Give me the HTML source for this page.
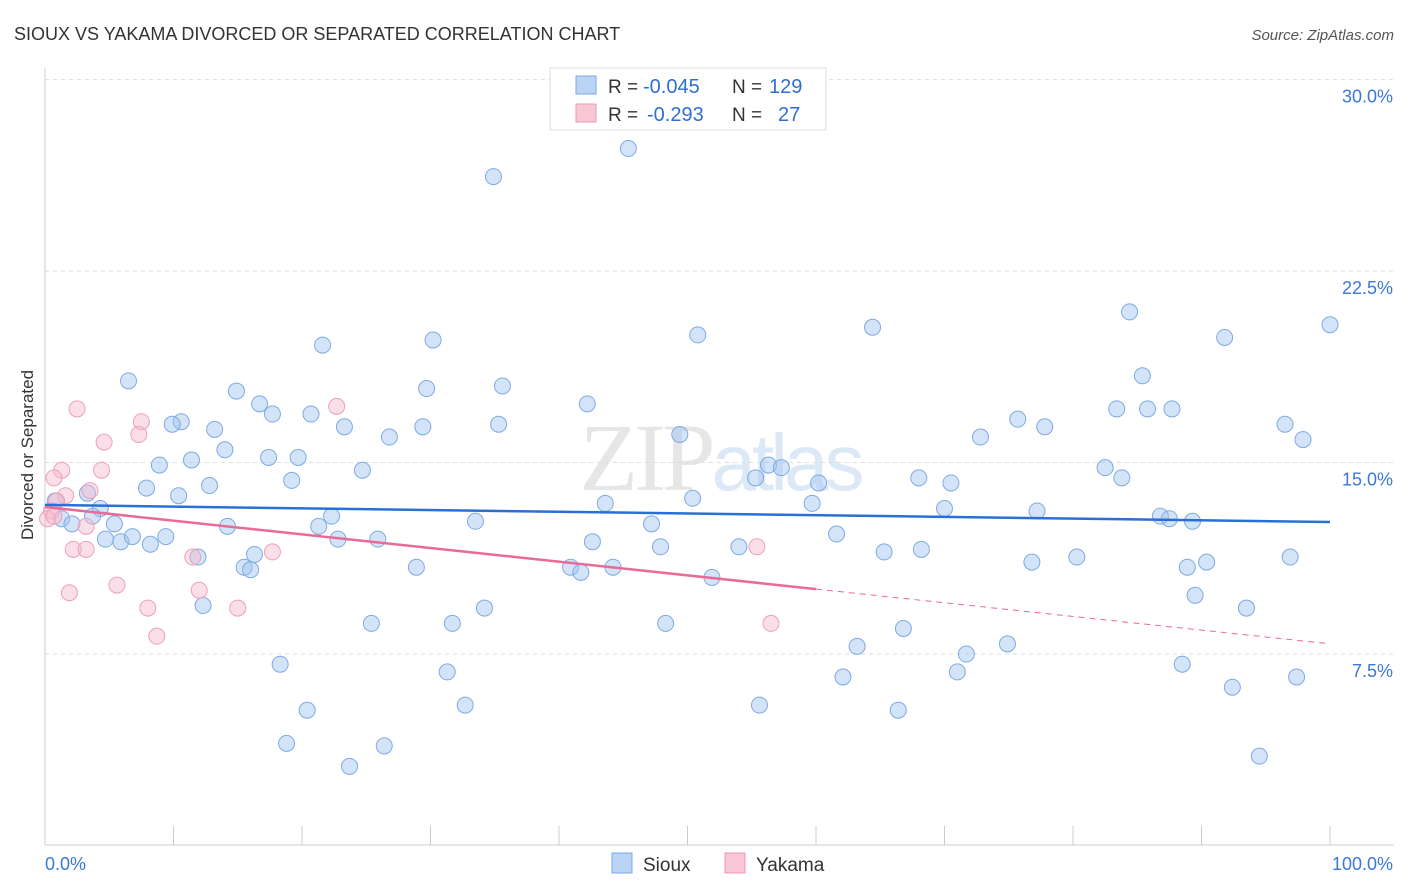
<!DOCTYPE html>
<html><head><meta charset="utf-8"><style>
body{margin:0;background:#fff;font-family:"Liberation Sans",sans-serif;}
</style></head><body>
<svg id="chart" width="1406" height="892" xmlns="http://www.w3.org/2000/svg" style="display:block">
<text x="14" y="40" font-size="18" fill="#333">SIOUX VS YAKAMA DIVORCED OR SEPARATED CORRELATION CHART</text>
<text x="1394" y="40" font-size="15" fill="#555" font-style="italic" text-anchor="end">Source: ZipAtlas.com</text>
<text x="720" y="490" font-size="96" fill="#e6e6e6" text-anchor="middle" font-family="Liberation Serif,serif" letter-spacing="-4">ZIP<tspan fill="#dce8f6" font-family="Liberation Sans,sans-serif" font-size="80">atlas</tspan></text>
<g id="grid"></g><g id="axes"></g><g id="pts"></g><g id="trend"></g>
<text transform="translate(33,455) rotate(-90)" font-size="17" fill="#333" text-anchor="middle">Divorced or Separated</text>
<g>
<rect x="550" y="68" width="276" height="62" fill="#fff" stroke="#ddd"/>
<rect x="576" y="76" width="20" height="18" fill="#b9d4f5" stroke="#7aaae0"/>
<rect x="576" y="104" width="20" height="18" fill="#f9c6d5" stroke="#eb9ab3"/>
<text x="608" y="93" font-size="19" fill="#333">R =</text>
<text x="643" y="93" font-size="20" fill="#2f6fd1">-0.045</text>
<text x="732" y="93" font-size="19" fill="#333">N =</text>
<text x="769" y="93" font-size="20" fill="#2f6fd1">129</text>
<text x="608" y="121" font-size="19" fill="#333">R =</text>
<text x="647" y="121" font-size="20" fill="#2f6fd1">-0.293</text>
<text x="732" y="121" font-size="19" fill="#333">N =</text>
<text x="778" y="121" font-size="20" fill="#2f6fd1">27</text>
</g>
<g>
<rect x="612" y="853" width="20" height="20" fill="#b9d4f5" stroke="#7aaae0"/>
<text x="643" y="871" font-size="19" fill="#333">Sioux</text>
<rect x="725" y="853" width="20" height="20" fill="#f9c6d5" stroke="#eb9ab3"/>
<text x="756" y="871" font-size="19" fill="#333">Yakama</text>
</g>
</svg>
<script>
const yTicks=[7.5,15,22.5,30];
const yTickLabels=["7.5%","15.0%","22.5%","30.0%"];
const xTickLabels=["0.0%","100.0%"];
const siouxX=[34.9,45.4,21.6,30.2,50.8,64.4,84.4,91.8,100,6.5,14.9,29.7,35.6,85.4,16.7,17.7,20.7,42.2,10.6,9.9,13.2,23.3,26.8,29.4,35.3,49.4,75.7,77.8,83.4,85.8,87.7,96.5,97.9,72.8,14.0,11.4,8.9,17.4,19.7,24.7,56.3,57.3,55.3,60.2,68.0,70.5,82.5,83.8,7.9,10.4,12.8,19.2,43.6,50.4,59.7,70.0,77.2,86.8,87.5,89.3,3.3,4.3,5.4,0.8,1.3,2.1,3.7,14.2,21.3,22.3,33.5,47.2,61.6,4.7,5.9,6.8,8.2,9.4,22.8,25.9,42.6,47.9,54.0,65.3,68.2,11.9,16.3,15.5,16.0,28.9,40.9,41.7,44.2,51.9,76.8,80.3,88.9,90.4,96.9,12.3,34.2,89.5,93.5,25.4,31.7,48.3,66.8,63.2,71.7,74.9,18.3,31.3,62.1,71.0,88.5,92.4,97.4,20.4,32.7,55.6,66.4,18.8,26.4,23.7,94.5];
const siouxY=[26.2,27.3,19.6,19.8,20.0,20.3,20.9,19.9,20.4,18.2,17.8,17.9,18.0,18.4,17.3,16.9,16.9,17.3,16.6,16.5,16.3,16.4,16.0,16.4,16.5,16.1,16.7,16.4,17.1,17.1,17.1,16.5,15.9,16.0,15.5,15.1,14.9,15.2,15.2,14.7,14.9,14.8,14.4,14.2,14.4,14.2,14.8,14.4,14.0,13.7,14.1,14.3,13.4,13.6,13.4,13.2,13.1,12.9,12.8,12.7,13.8,13.2,12.6,13.5,12.8,12.6,12.9,12.5,12.5,12.9,12.7,12.6,12.2,12.0,11.9,12.1,11.8,12.1,12.0,12.0,11.9,11.7,11.7,11.5,11.6,11.3,11.4,10.9,10.8,10.9,10.9,10.7,10.9,10.5,11.1,11.3,10.9,11.1,11.3,9.4,9.3,9.8,9.3,8.7,8.7,8.7,8.5,7.8,7.5,7.9,7.1,6.8,6.6,6.8,7.1,6.2,6.6,5.3,5.5,5.5,5.3,4.0,3.9,3.1,3.5];
const yakX=[2.5,7.5,7.3,4.6,1.3,0.7,4.4,3.5,1.6,0.9,0.5,0.2,3.2,2.2,3.2,1.9,5.6,8.0,8.7,11.5,12.0,15.0,17.7,22.7,55.4,56.5,0.7];
const yakY=[17.1,16.6,16.1,15.8,14.7,14.4,14.7,13.9,13.7,13.5,13.1,12.8,12.5,11.6,11.6,9.9,10.2,9.3,8.2,11.3,10.0,9.3,11.5,17.2,11.7,8.7,12.9];
const siouxTrend=[13.34,12.67];
const yakTrend=[13.26,7.9];
const yakSolidEnd=60;
const NS="http://www.w3.org/2000/svg";
const X=v=>45+v*12.85, Y=v=>845.5-v*25.53;
function mk(tag,attrs,parent){const e=document.createElementNS(NS,tag);for(const k in attrs)e.setAttribute(k,attrs[k]);document.getElementById(parent).appendChild(e);return e;}
yTicks.forEach((t,i)=>{
 const g=mk('line',{x1:45,x2:1394,y1:Y(t),y2:Y(t),stroke:'#ddd','stroke-dasharray':'4,4'},'grid');
 
 
 const l=mk('text',{x:1393,y:Y(t)+23,'font-size':18,fill:'#3b78d8','text-anchor':'end'},'grid');
 l.textContent=yTickLabels[i];
 
 
});
const ax=mk('line',{x1:45,x2:1394,y1:845,y2:845,stroke:'#ccc'},'axes');


const ay=mk('line',{x1:45,x2:45,y1:68,y2:845,stroke:'#ccc'},'axes');


for(let i=0;i<=10;i++){const t=mk('line',{x1:X(i*10),x2:X(i*10),y1:826,y2:845,stroke:'#ccc'},'axes');
 
 }
[[0,'start',45],[1,'end',1393]].forEach(([i,a,x])=>{const t=mk('text',{x:x,y:870,'font-size':18,fill:'#3b78d8','text-anchor':a},'axes');t.textContent=xTickLabels[i];
 
 });
siouxX.forEach((v,i)=>{const c=mk('circle',{cx:X(v),cy:Y(siouxY[i]),r:8,fill:'rgba(160,196,240,0.45)',stroke:'#7eaae2','stroke-width':1},'pts');
 
 });
yakX.forEach((v,i)=>{const c=mk('circle',{cx:X(v),cy:Y(yakY[i]),r:8,fill:'rgba(247,185,205,0.45)',stroke:'#eda0b8','stroke-width':1},'pts');
 
 });
const s=mk('line',{x1:X(0),y1:Y(siouxTrend[0]),x2:X(100),y2:Y(siouxTrend[1]),stroke:'#2a6fd6','stroke-width':2.5},'trend');


const ym=yakTrend[0]+(yakTrend[1]-yakTrend[0])*yakSolidEnd/100;
const y1=mk('line',{x1:X(0),y1:Y(yakTrend[0]),x2:X(yakSolidEnd),y2:Y(ym),stroke:'#e96a97','stroke-width':2.5},'trend');


const y2=mk('line',{x1:X(yakSolidEnd),y1:Y(ym),x2:X(100),y2:Y(yakTrend[1]),stroke:'#e96a97','stroke-width':1,'stroke-dasharray':'6,5'},'trend');


</script>
</body></html>
